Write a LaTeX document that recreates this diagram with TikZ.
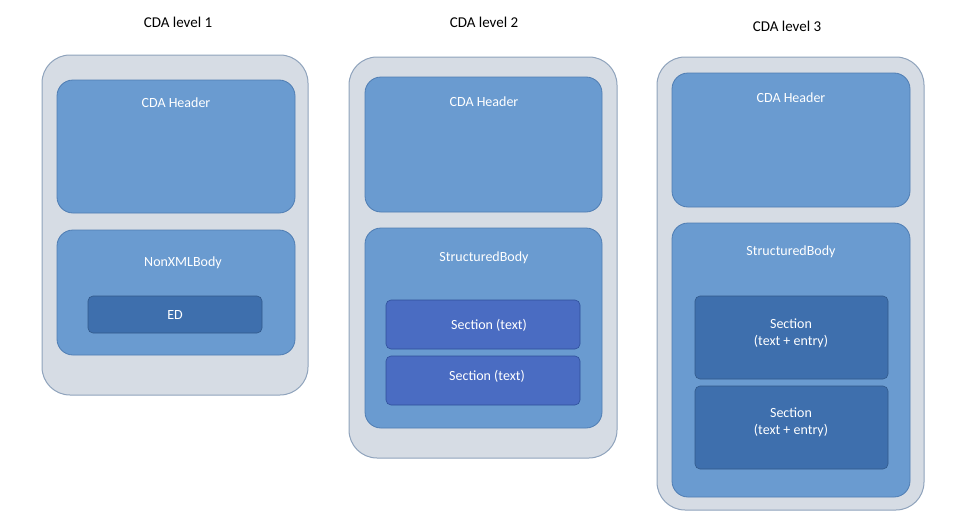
\documentclass[tikz,border=0pt]{standalone}
\usepackage{fontspec}
\setmainfont{Carlito}
\definecolor{outerf}{HTML}{D6DCE4}
\definecolor{outerd}{HTML}{8FA3BC}
\definecolor{innerf}{HTML}{6A9BD0}
\definecolor{innerd}{HTML}{4F7DB3}
\definecolor{secA}{HTML}{3E6FAD}
\definecolor{secB}{HTML}{4A6CC2}
\definecolor{secBd}{HTML}{2F4F9A}
\begin{document}
\begin{tikzpicture}[x=1pt,y=-1pt,
  outer/.style={fill=outerf,draw=outerd,line width=1pt,rounded corners=28pt},
  inner/.style={fill=innerf,draw=innerd,line width=0.8pt,rounded corners=16pt},
  secbox/.style={fill=secA,draw=secA!80!black,line width=0.6pt,rounded corners=5pt},
  secboxb/.style={fill=secB,draw=secBd,line width=0.6pt,rounded corners=5pt},
  ttl/.style={font=\fontsize{15}{18}\selectfont,text=black},
  lbl/.style={font=\fontsize{14}{17}\selectfont,text=white,align=center}]
\useasboundingbox (0,0) rectangle (958,530);
% column 1
\node[ttl] (t1) at (178,22) {CDA level 1};
\draw[outer] (42,55) rectangle (308,395);
\draw[inner] (57,80) rectangle (295,213);
\node[lbl] (h1) at (176,103) {CDA Header};
\draw[inner] (57,230) rectangle (295,355);
\node[lbl] (b1) at (183,263) {NonXMLBody};
\draw[secbox] (88,296) rectangle (262,333);
\node[lbl] (e1) at (175,315) {ED};
% column 2
\node[ttl] (t2) at (484,22) {CDA level 2};
\draw[outer] (349,57) rectangle (617,458);
\draw[inner] (365,77) rectangle (602,212);
\node[lbl] (h2) at (484,102) {CDA Header};
\draw[inner] (365,228) rectangle (602,428);
\node[lbl] (b2) at (484,258) {StructuredBody};
\draw[secboxb] (386,300) rectangle (580,349);
\node[lbl] (s21) at (489,325) {Section (text)};
\draw[secboxb] (386,356) rectangle (580,405);
\node[lbl] (s22) at (487,376) {Section (text)};
% column 3
\node[ttl] (t3) at (787,26) {CDA level 3};
\draw[outer] (657,57) rectangle (924,510);
\draw[inner] (672,73) rectangle (910,207);
\node[lbl] (h3) at (791,98) {CDA Header};
\draw[inner] (672,223) rectangle (910,497);
\node[lbl] (b3) at (791,252) {StructuredBody};
\draw[secbox] (695,296) rectangle (888,379);
\node[lbl] (s31) at (791,333) {Section\\(text + entry)};
\draw[secbox] (695,386) rectangle (888,469);
\node[lbl] (s32) at (791,422) {Section\\(text + entry)};
\end{tikzpicture}
\end{document}
